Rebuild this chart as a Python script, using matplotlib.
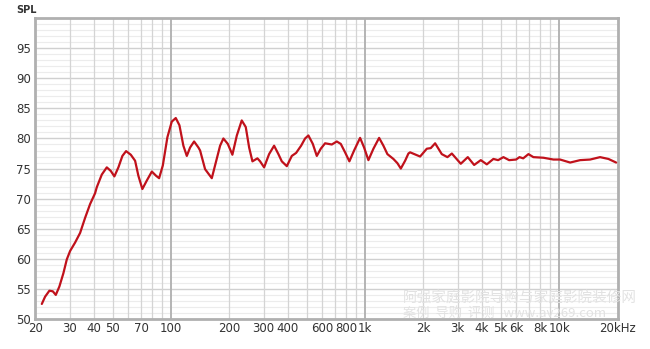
import numpy as np
import matplotlib.pyplot as plt
from matplotlib.ticker import FixedLocator, NullFormatter

# Respuesta en frecuencia (Hz, dB)
freq = [21.56, 22.41, 23.59, 24.56, 25.45, 26.56, 27.85, 29.00, 30.16, 32.00,
        33.96, 36.03, 38.24, 40.57, 41.40, 43.93, 46.62, 48.89, 51.01, 53.51,
        56.10, 58.61, 61.98, 65.23, 67.83, 71.11, 74.93, 79.56, 83.68, 86.74,
        90.63, 95.70, 100.8, 105.7, 110.4, 115.7, 120.5, 125.3, 131.4, 138.3,
        141.1, 149.7, 162.1, 170.0, 178.9, 186.0, 196.0, 207.0, 218.2, 231.3,
        242.6, 252.5, 262.6, 278.6, 287.6, 301.6, 320.0, 339.6, 357.4, 372.1,
        394.9, 419.0, 441.0, 467.9, 490.6, 510.2, 537.6, 563.7, 591.0, 622.0,
        673.5, 714.6, 749.3, 788.5, 829.8, 877.5, 942.4, 988.1, 1040, 1104,
        1181, 1243, 1303, 1399, 1467, 1528, 1608, 1672, 1706, 1921,
        2080, 2180, 2296, 2485, 2657, 2800, 3113, 3383, 3648, 3948,
        4240, 4585, 4850, 5164, 5525, 6000, 6250, 6530, 6950, 7370,
        8300, 9350, 10120, 11400, 12830, 14450, 16260, 17960, 19680]
spl = [52.5, 53.7, 54.7, 54.6, 54.0, 55.4, 57.6, 59.9, 61.3, 62.7,
       64.3, 66.8, 69.1, 70.9, 71.9, 74.0, 75.2, 74.6, 73.7, 75.2,
       77.1, 77.9, 77.3, 76.3, 73.8, 71.6, 73.0, 74.5, 73.8, 73.4,
       75.5, 80.2, 82.8, 83.4, 82.2, 78.8, 77.1, 78.5, 79.5, 78.5,
       78.0, 74.9, 73.4, 76.0, 78.8, 80.0, 79.1, 77.3, 80.5, 83.0,
       81.9, 78.5, 76.2, 76.7, 76.2, 75.2, 77.4, 78.8, 77.4, 76.2,
       75.4, 77.1, 77.6, 78.8, 80.0, 80.5, 79.1, 77.1, 78.3, 79.2,
       79.0, 79.5, 79.1, 77.7, 76.2, 78.0, 80.1, 78.5, 76.4, 78.3,
       80.1, 78.8, 77.4, 76.6, 75.9, 75.0, 76.3, 77.5, 77.7, 77.0,
       78.3, 78.4, 79.2, 77.4, 76.9, 77.5, 75.8, 76.9, 75.6, 76.4,
       75.7, 76.6, 76.4, 76.9, 76.4, 76.5, 76.9, 76.7, 77.4, 76.9,
       76.8, 76.5, 76.5, 76.0, 76.4, 76.5, 76.9, 76.6, 76.0]

xticks = [20, 30, 40, 50, 70, 100, 200, 300, 400, 600, 800, 1000,
          2000, 3000, 4000, 5000, 6000, 8000, 10000, 20000]
xlabels = ['20', '30', '40', '50', '70', '100', '200', '300', '400', '600', '800', '1k',
           '2k', '3k', '4k', '5k', '6k', '8k', '10k', '20kHz']
yticks = [50, 55, 60, 65, 70, 75, 80, 85, 90, 95]

plt.rcParams['font.family'] = ['DejaVu Sans']

fig = plt.figure(figsize=(6.5, 3.49), dpi=100)
ax = fig.add_axes([0.0546, 0.086, 0.8954, 0.862])
ax.set_xscale('log')
ax.set_xlim(20, 20000)
ax.set_ylim(50, 100)

# Rejilla
for y in range(51, 100):
    if y % 5 == 0:
        ax.axhline(y, color='#d0d0d0', lw=1.0, zorder=1)
    else:
        ax.axhline(y, color='#ececec', lw=0.8, zorder=0)
vlines = [v * m for m in (10, 100, 1000) for v in range(2, 11)] + [20000]
for v in vlines:
    if v in (100, 1000, 10000):
        ax.axvline(v, color='#b4b4b4', lw=1.4, zorder=1)
    else:
        ax.axvline(v, color='#d4d4d4', lw=0.9, zorder=1)

ax.plot(freq, spl, color='#c0111b', lw=1.6, zorder=3,
        solid_joinstyle='round', solid_capstyle='round')

ax.xaxis.set_major_locator(FixedLocator(xticks))
ax.set_xticklabels(xlabels)
ax.xaxis.set_minor_formatter(NullFormatter())
ax.xaxis.set_minor_locator(FixedLocator([]))
ax.set_yticks(yticks)
ax.tick_params(length=0, labelsize=8.5, labelcolor='#333333', pad=3)
ax.tick_params(axis='x', pad=2)

for s in ax.spines.values():
    s.set_color('#b0b0b0')
    s.set_linewidth(2)

fig.text(0.025, 0.962, 'SPL', fontsize=7, color='#333333', fontweight='bold')

# Marca de agua
wm = ['Noto Sans CJK SC', 'DejaVu Sans']
fig.text(0.62, 0.145, '阿强家庭影院导购与家庭影院装修网', fontsize=10.5,
         color='#e2e2e2', family=wm, va='center')
fig.text(0.62, 0.103, '案例  导购  评测   www.av269.com', fontsize=9.5,
         color='#e2e2e2', family=wm, va='center')

fig.savefig('out.png', dpi=100, facecolor='white')
